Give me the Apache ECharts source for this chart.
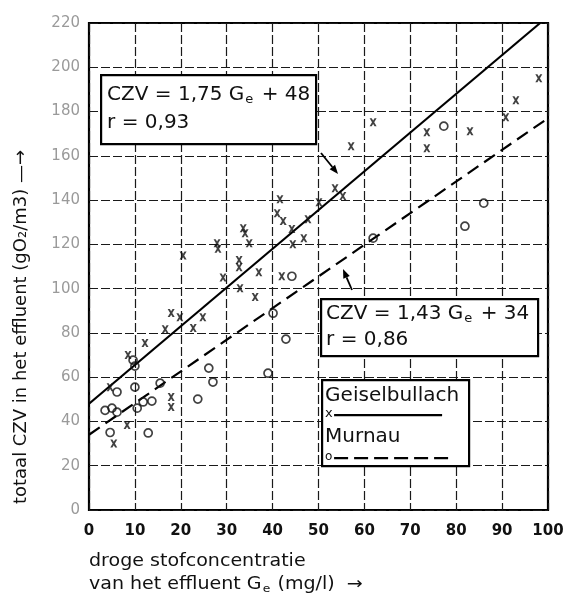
<!DOCTYPE html>
<html>
<head>
<meta charset="utf-8">
<script src="https://cdn.jsdelivr.net/npm/echarts@6/dist/echarts.min.js"></script>
<style>
html,body{margin:0;padding:0;background:#fff}
#chart{width:567px;height:595px}
</style>
</head>
<body>
<div id="chart"></div>
<script>
// Measurements: dry-matter concentration of the effluent (mg/l) vs. total COD (gO2/m3)
const geiselbullach = [
  [5.4, 30], [8.3, 38.4], [4.6, 55.5], [8.5, 70], [12.2, 75.4], [16.6, 81.7],
  [17.9, 89], [19.8, 87.1], [22.7, 82.2], [24.8, 87.1], [17.9, 51], [17.9, 46.5],
  [20.5, 115], [27.9, 120.5], [28.1, 118], [29.2, 105], [32.7, 112.9], [32.7, 109.7],
  [32.9, 100.2], [33.6, 127.3], [34, 125], [34.9, 120.5], [36.2, 96.2], [37, 107.4],
  [41.6, 140.4], [41, 134], [42.3, 130.5], [44.2, 126.9], [47.7, 131.4], [44.4, 120.1],
  [46.8, 122.8], [42, 105.6], [50.1, 139], [53.6, 145.4], [55.3, 141.8], [57.1, 164.3],
  [61.9, 175.2], [73.6, 170.7], [73.6, 163.4], [83, 171.1], [90.8, 177.4], [93, 185.1],
  [98, 195]
];
const murnau = [
  [3.5, 45], [5, 46], [6.1, 44.2], [4.6, 35], [6.1, 53.3], [9.6, 67.7], [10, 65],
  [10, 55.5], [10.5, 46], [11.8, 48.8], [13.7, 49.2], [12.9, 34.8], [15.5, 57.3],
  [23.7, 50.1], [26.1, 64.1], [27, 57.8], [39, 61.8], [40.1, 88.9], [42.9, 77.2],
  [44.2, 105.6], [61.9, 122.8], [77.3, 173.4], [81.9, 128.2], [86, 138.6]
];

// Regression lines as stated in the annotation boxes
const fitGeiselbullach = { slope: 1.75, intercept: 48, r: '0,93' };
const fitMurnau = { slope: 1.43, intercept: 34, r: '0,86' };

const xTicks = [0, 10, 20, 30, 40, 50, 60, 70, 80, 90, 100];
const yTicks = [0, 20, 40, 60, 80, 100, 120, 140, 160, 180, 200, 220];

const xMin = xTicks[0], xMax = xTicks[xTicks.length - 1];
const yMin = yTicks[0], yMax = yTicks[yTicks.length - 1];

// endpoints of a fitted line, clipped to the plotting window
function fitLine(fit) {
  const x1 = Math.min(xMax, (yMax - fit.intercept) / fit.slope);
  return [[xMin, fit.intercept + fit.slope * xMin], [x1, fit.intercept + fit.slope * x1]];
}

const FONT = '"DejaVu Sans", "Liberation Sans", Arial, sans-serif';
const INK = '#111';
const xMarker = 'path://M0,0 L3,0 L5,2.8 L7,0 L10,0 L6.6,5 L10,10 L7,10 L5,7.2 L3,10 L0,10 L3.4,5 Z';

function eqText(fit) {
  return '{m|CZV = ' + String(fit.slope).replace('.', ',') + ' G}{s|e}{m| + ' + fit.intercept + '}';
}
const richEq = {
  m: { fontSize: 20, fontFamily: FONT, fill: INK },
  s: { fontSize: 13, fontFamily: FONT, fill: INK, padding: [10, 2, 0, 1] }
};

function box(left, top, w, h, children) {
  return {
    type: 'group', left: left, top: top, z: 100,
    children: [{ type: 'rect', z: 100, shape: { x: 0, y: 0, width: w, height: h },
      style: { fill: '#fff', stroke: '#000', lineWidth: 2.2 } }]
      .concat(children.map(c => Object.assign({ z: 101 }, c)))
  };
}

function arrow(x0, y0, x1, y1) {
  const a = Math.atan2(y1 - y0, x1 - x0), L = 9, W = 3.5;
  const bx = x1 - L * Math.cos(a), by = y1 - L * Math.sin(a);
  const nx = -Math.sin(a) * W, ny = Math.cos(a) * W;
  return [
    { type: 'line', z: 100, shape: { x1: x0, y1: y0, x2: bx, y2: by }, style: { stroke: '#000', lineWidth: 1.8 } },
    { type: 'polygon', z: 100, shape: { points: [[x1, y1], [bx + nx, by + ny], [bx - nx, by - ny]] }, style: { fill: '#000' } }
  ];
}

const chart = echarts.init(document.getElementById('chart'));
chart.setOption({
  backgroundColor: '#fff',
  animation: false,
  grid: { left: 89, right: 19, top: 23, bottom: 85, show: true, borderColor: '#000', borderWidth: 2.2 },
  xAxis: {
    type: 'value', min: xMin, max: xMax, interval: 10,
    axisLine: { show: false }, axisTick: { show: false },
    axisLabel: { margin: 14, fontSize: 15, fontWeight: 'bold', color: INK, fontFamily: FONT },
    splitLine: { show: true, lineStyle: { color: '#1a1a1a', width: 1.2, type: [9, 3] } }
  },
  yAxis: {
    type: 'value', min: yMin, max: yMax, interval: 20,
    axisLine: { show: false }, axisTick: { show: false },
    axisLabel: { margin: 9, fontSize: 15, color: '#9a9a9a', fontFamily: FONT },
    splitLine: { show: true, lineStyle: { color: '#1a1a1a', width: 1.2, type: [9, 3] } }
  },
  series: [
    {
      name: 'Geiselbullach fit', type: 'line', data: fitLine(fitGeiselbullach), symbol: 'none',
      lineStyle: { color: '#000', width: 2.2 }, z: 3
    },
    {
      name: 'Murnau fit', type: 'line', data: fitLine(fitMurnau), symbol: 'none',
      lineStyle: { color: '#000', width: 2.2, type: [13, 7] }, z: 3
    },
    {
      name: 'Geiselbullach', type: 'scatter', data: geiselbullach, symbol: xMarker, symbolSize: [7, 8],
      itemStyle: { color: INK }, z: 4
    },
    {
      name: 'Murnau', type: 'scatter', data: murnau, symbol: 'circle', symbolSize: 8,
      itemStyle: { color: 'transparent', borderColor: INK, borderWidth: 1.7 }, z: 4
    }
  ],
  graphic: [
    // y-axis title (reads bottom to top)
    {
      type: 'text', x: 21, y: 327, rotation: Math.PI / 2,
      style: { text: 'totaal CZV in het effluent (gO\u2082/m3) \u2014\u2192', fontSize: 18,
        fontFamily: FONT, fill: INK, align: 'center', verticalAlign: 'middle' }
    },
    // x-axis title
    {
      type: 'text', x: 89, y: 562, scaleX: 1.12,
      style: { text: 'droge stofconcentratie', fontSize: 17, fontFamily: FONT, fill: INK, verticalAlign: 'middle' }
    },
    {
      type: 'text', x: 89, y: 585, scaleX: 1.12,
      style: { text: '{t|van het effluent G}{s|e}{t| (mg/l)  \u2192}', fontFamily: FONT, verticalAlign: 'middle',
        rich: { t: { fontSize: 17, fontFamily: FONT, fill: INK },
                s: { fontSize: 11, fontFamily: FONT, fill: INK, padding: [8, 1, 0, 1] } } }
    },
    // equation boxes
    box(100, 74, 215, 69, [
      { type: 'text', x: 6, y: 20, style: { text: eqText(fitGeiselbullach), rich: richEq, verticalAlign: 'middle' } },
      { type: 'text', x: 6, y: 48, style: { text: 'r = ' + fitGeiselbullach.r, fontSize: 20, fontFamily: FONT, fill: INK, verticalAlign: 'middle' } }
    ]),
    box(320, 298, 217, 57, [
      { type: 'text', x: 5, y: 15, style: { text: eqText(fitMurnau), rich: richEq, verticalAlign: 'middle' } },
      { type: 'text', x: 5, y: 41, style: { text: 'r = ' + fitMurnau.r, fontSize: 20, fontFamily: FONT, fill: INK, verticalAlign: 'middle' } }
    ]),
    // legend box
    box(321, 379, 147, 86, [
      { type: 'text', x: 3, y: 16, style: { text: 'Geiselbullach', fontSize: 20, fontFamily: FONT, fill: INK, verticalAlign: 'middle' } },
      { type: 'text', x: 3, y: 34, style: { text: 'x', fontSize: 13, fontFamily: FONT, fill: INK, verticalAlign: 'middle' } },
      { type: 'line', shape: { x1: 12, y1: 35, x2: 120, y2: 35 }, style: { stroke: '#000', lineWidth: 2.4 } },
      { type: 'text', x: 3, y: 57, style: { text: 'Murnau', fontSize: 20, fontFamily: FONT, fill: INK, verticalAlign: 'middle' } },
      { type: 'text', x: 3, y: 77, style: { text: 'o', fontSize: 12, fontFamily: FONT, fill: INK, verticalAlign: 'middle' } },
      { type: 'line', shape: { x1: 12, y1: 78, x2: 128, y2: 78 }, style: { stroke: '#000', lineWidth: 2.4, lineDash: [14, 6] } }
    ])
  ]
  // pointers from the boxes to their lines
  .concat(arrow(321, 153, 338, 174))
  .concat(arrow(352, 290, 343, 269))
});
</script>
</body>
</html>
